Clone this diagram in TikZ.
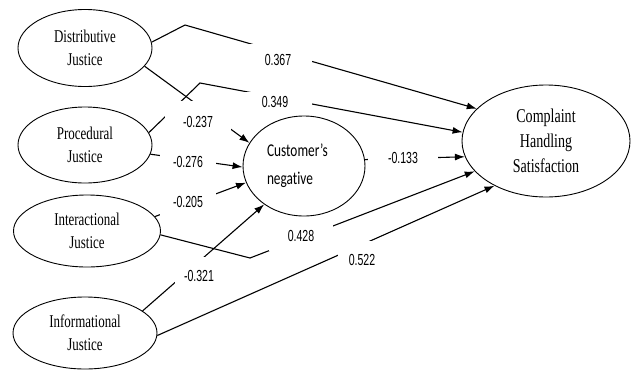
\documentclass[tikz,border=0pt]{standalone}
\usepackage{fontspec}
\usepackage{tikz}
\usetikzlibrary{arrows.meta,shapes.geometric}
\newfontfamily\ovalfont[FakeStretch=0.72]{Liberation Serif}
\newfontfamily\coeffont[FakeStretch=0.66]{Liberation Sans}
\newfontfamily\medfont[FakeStretch=0.74,Ligatures=NoCommon]{Carlito}
\tikzset{
  construct/.style={draw, ellipse, line width=0.9pt, align=center, inner sep=0pt, font=\ovalfont\fontsize{18}{23}\selectfont},
  mediator/.style={draw, ellipse, line width=0.9pt, align=left, text width=74pt, inner sep=0pt, font=\medfont\fontsize{18}{28}\selectfont},
  outcome/.style={draw, ellipse, line width=0.9pt, align=center, inner sep=0pt, font=\ovalfont\fontsize{19.5}{25}\selectfont},
  coef/.style={fill=white, inner sep=0pt, font=\coeffont\fontsize{16}{18}\selectfont},
  arrow/.style={-{Latex[length=10pt,width=7pt]}, line width=1.1pt}
}
\begin{document}
\begin{tikzpicture}[x=1pt, y=-1pt]
  \useasboundingbox (0,0) rectangle (634,370);
  \node[construct, minimum width=134pt, minimum height=77pt] (dist) at (85,48) {Distributive\\Justice};
  \node[construct, minimum width=134pt, minimum height=76pt] (proc) at (85,145) {Procedural\\Justice};
  \node[construct, minimum width=147pt, minimum height=72pt] (inter) at (87,231) {Interactional\\Justice};
  \node[construct, minimum width=144pt, minimum height=72pt] (info) at (85,333) {Informational\\Justice};
  \node[mediator, minimum width=122pt, minimum height=100pt] (neg) at (304,166) {Customer’s\\negative};
  \node[outcome, minimum width=168pt, minimum height=112pt] (chs) at (546,141) {Complaint\\Handling\\Satisfaction};
  \coordinate (k1) at (185,25);
  \coordinate (k2) at (200,83);
  \coordinate (k3) at (250,258);
  \draw[arrow] (dist.5) -- (k1) -- (chs.155);
  \draw[arrow] (dist.-17) -- (neg.157);
  \draw[arrow] (proc.11) -- (k2) -- (chs.174);
  \draw[arrow] (proc.-8) -- (neg.181);
  \draw[arrow] (inter.12) -- (neg.196);
  \draw[arrow] (inter.-3) -- (k3) -- (chs.203);
  \draw[arrow] (info.21) -- (neg.224);
  \draw[arrow] (info.-2) -- (chs.221);
  \draw[arrow] (neg.6) -- (chs.191);
  \node[coef, minimum width=68pt, minimum height=32pt] (c367) at (278,60) {0.367};
  \node[coef, minimum width=74pt, minimum height=20pt] (c349) at (275,102) {0.349};
  \node[coef, minimum width=66pt, minimum height=42pt] (c237) at (198,122) {-0.237};
  \node[coef, minimum width=56pt, minimum height=20pt] (c276) at (188,162) {-0.276};
  \node[coef, minimum width=56pt, minimum height=28pt] (c205) at (188,202) {-0.205};
  \node[coef, minimum width=48pt, minimum height=38pt] (c321) at (199,276) {-0.321};
  \node[coef, minimum width=64pt, minimum height=30pt] (c428) at (301,236) {0.428};
  \node[coef, minimum width=48pt, minimum height=38pt] (c522) at (362,260) {0.522};
  \node[coef, minimum width=70pt, minimum height=20pt] (c133) at (403,158) {-0.133};
\end{tikzpicture}
\end{document}
